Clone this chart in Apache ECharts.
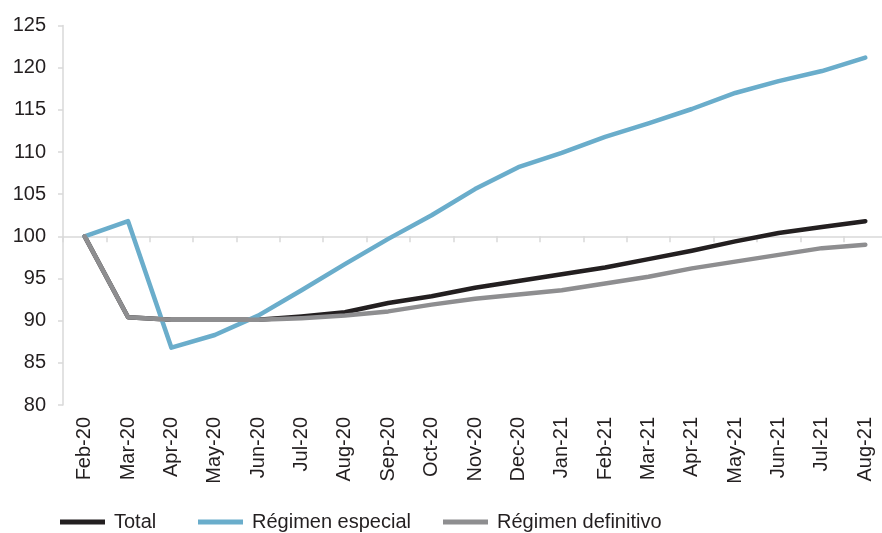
<!DOCTYPE html>
<html>
<head>
<meta charset="utf-8">
<script src="https://cdn.jsdelivr.net/npm/echarts@6/dist/echarts.min.js"></script>
<style>
html,body{margin:0;padding:0;background:#fff;overflow:hidden;}
#chart{width:892px;height:533px;}
</style>
</head>
<body>
<div id="chart"></div>
<script>
const categories = ["Feb-20","Mar-20","Apr-20","May-20","Jun-20","Jul-20","Aug-20","Sep-20","Oct-20","Nov-20","Dec-20","Jan-21","Feb-21","Mar-21","Apr-21","May-21","Jun-21","Jul-21","Aug-21"];
const total = [100,90.4,90.1,90.1,90.1,90.5,91.0,92.1,92.9,93.9,94.7,95.5,96.3,97.3,98.3,99.4,100.4,101.1,101.8];
const especial = [100,101.8,86.8,88.3,90.6,93.6,96.7,99.7,102.5,105.6,108.2,109.9,111.8,113.4,115.1,117.0,118.4,119.6,121.2];
const definitivo = [100,90.4,90.1,90.1,90.1,90.3,90.6,91.1,91.9,92.6,93.1,93.6,94.4,95.2,96.2,97.0,97.8,98.6,99.0];
const yTicks = {min: 80, max: 125, interval: 5};
const names = ["Total","Régimen especial","Régimen definitivo"];
const colors = ["#231f20","#6aadcb","#8e8e90"];

const chart = echarts.init(document.getElementById('chart'));
const font = "Liberation Sans";
const txt = "#231f20";
const axisGrey = "#d9d9d9";
const G_LEFT = 63, G_WIDTH = 824, G_TOP = 25.5, G_BOTTOM = 128;
const plotH = 533 - G_TOP - G_BOTTOM;
const y100 = G_TOP + (yTicks.max - 100) / (yTicks.max - yTicks.min) * plotH;

const legendLefts = [60, 198, 443];
const option = {
  animation: false,
  backgroundColor: '#fff',
  grid: [
    {left: G_LEFT, width: G_WIDTH, top: G_TOP, bottom: G_BOTTOM},
    {left: G_LEFT, width: G_WIDTH, top: G_TOP, bottom: 533 - y100}
  ],
  legend: names.map((n, i) => ({
    data: [n], left: legendLefts[i], top: 512, padding: 0, icon: 'rect',
    itemWidth: 45, itemHeight: 5,
    textStyle: {fontFamily: font, fontSize: 20, color: txt, padding: [0,0,0,4]}
  })),
  xAxis: [
    {type: 'category', gridIndex: 0, data: categories, boundaryGap: true,
     axisLine: {show: false}, axisTick: {show: false},
     axisLabel: {rotate: 90, fontFamily: font, fontSize: 20, color: txt, margin: 12, interval: 0}},
    {type: 'category', gridIndex: 1, data: categories, boundaryGap: true,
     axisLine: {show: true, lineStyle: {color: axisGrey, width: 1.5}},
     axisTick: {show: true, length: 6, lineStyle: {color: axisGrey, width: 1.5}, interval: 0},
     axisLabel: {show: false}}
  ],
  yAxis: [
    {type: 'value', gridIndex: 0, min: yTicks.min, max: yTicks.max, interval: yTicks.interval,
     axisLine: {show: true, lineStyle: {color: axisGrey, width: 1.5}},
     axisTick: {show: true, length: 5, lineStyle: {color: axisGrey, width: 1.5}},
     splitLine: {show: false},
     axisLabel: {fontFamily: font, fontSize: 20, color: txt, margin: 17}},
    {type: 'value', gridIndex: 1, show: false, min: 0, max: 1}
  ],
  series: [
    {name: names[0], data: total, color: colors[0]},
    {name: names[1], data: especial, color: colors[1]},
    {name: names[2], data: definitivo, color: colors[2]}
  ].map(s => ({
    type: 'line', xAxisIndex: 0, yAxisIndex: 0, name: s.name, data: s.data,
    symbol: 'none', smooth: false,
    itemStyle: {color: s.color},
    lineStyle: {color: s.color, width: 4.5, cap: 'round', join: 'round'}
  }))
};
chart.setOption(option);
</script>
</body>
</html>
